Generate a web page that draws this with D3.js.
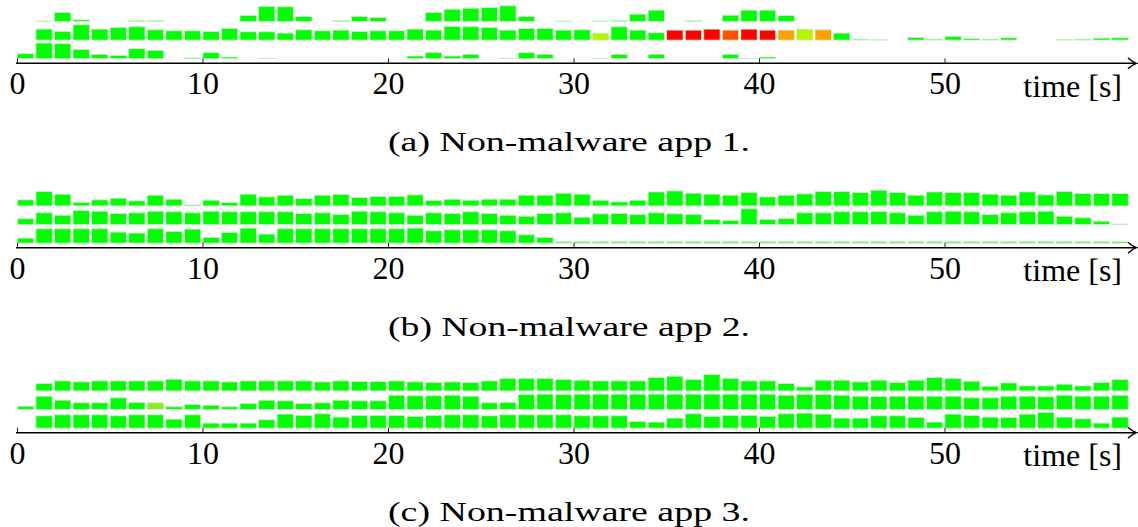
<!DOCTYPE html>
<html>
<head>
<meta charset="utf-8">
<script src="https://cdn.jsdelivr.net/npm/d3@7"></script>
<style>
  html, body { margin: 0; padding: 0; background: #fff; }
  svg { display: block; }
</style>
</head>
<body>
<svg id="chart" width="1138" height="527"></svg>
<script>
// ---------- DATA ----------
const tickValues = [0, 10, 20, 30, 40, 50];
const axisLabel = "time [s]";
const captions = ["(a) Non-malware app 1.", "(b) Non-malware app 2.", "(c) Non-malware app 3."];

// bar heights per second (0..59), three rows per app (top, middle, bottom)
const appA_row1 = [0,0.5,9,1.7,0,0,0.7,0.7,0,0, 0,0,6,15,14.7,5,0,1,5,4, 0,0,9,12.3,13.3,14,15.7,5,0,0.5, 0,0.5,1,7.3,11.3,0,0.7,0,6.3,11.3, 11.3,6,0,0,0,0,0,0,0,0, 0,0,0,0,0,0,0,0,0,0];
const appA_row2 = [0,11,8.7,15.3,11,12.7,13.3,10.3,9.3,9.3, 8.7,11.7,8.3,8.3,7,10.3,9.3,10,8.7,9.3, 9.3,11,10,13.7,13.3,12.7,10,11.7,11.7,10, 10.3,7,13.3,10,7.3,10,10,11,10,11, 10,10,11,10.3,7,1,0.7,0,2.7,1, 3.7,1.5,1,2.3,0,0,0.5,1,2,2.3];
const appA_row3 = [5,15.7,15,9.3,4.3,3.3,10,8.3,0,1, 6,1.7,0,0.5,0,0,0,0,0,0, 0,2.7,6,2.7,4.3,0,0.7,6,4.3,0, 0,0.7,4.3,0,4.3,0,0,0,4.3,0.3, 1.7,0,0,0,0,0,0,0,0,0, 0,0,0,0,0,0,0,0,0,0];

const appB_row1 = [6,14.3,11.7,3.3,6,7.7,5,10.7,6.7,1, 5.7,3.3,11.7,9,10.7,7.3,10.7,11.3,8.3,9.3, 9.3,11,5.3,6.7,5.7,6.7,6.7,10.7,10.7,12.7, 11.7,5.7,4,5.7,14,15,12.7,11.7,10.7,13.3, 9,10.7,12,14.3,14.3,13.3,15.7,13.3,10.7,14, 13.3,13.3,11.7,10.7,14,11,14.3,12.3,12.3,12.3];
const appB_row2 = [5.7,11.7,9.3,14,13.3,11,11.7,13.3,12.7,11.7, 13.3,12.7,12.7,12.7,12.7,11,11.7,10,13.3,12.7, 11.7,9.3,11.7,11,12.7,11,9.3,8.3,11,11.7, 7.3,10.7,11,10,11.7,10.7,10,5,4,15.7, 5,6,11.7,11.7,12.7,12.7,13,11.7,9.3,12.7, 13.3,12.7,10,11.7,12.7,13.3,8.3,6.7,3.3,0.5];
const appB_row3 = [5,14.3,14.3,14.3,14.3,11,10,14.3,11.7,14, 5.7,10.7,15,9,14.3,14.3,14.3,14.3,14.3,14.3, 14.3,15,12.3,13.3,13.3,13.3,12.3,8.3,5.7,1.3, 1.3,1.3,1.3,1.3,1.3,1.3,1.3,1.3,1.3,1.3, 1.3,1.3,1.3,1.3,1.3,1.3,1.3,1.3,1.3,1.3, 1.3,1.3,1.3,1.3,1.3,1.3,1.3,1.3,1.3,1.3];

const appC_row1 = [0,7.3,10,9,10,10,10,10,11.7,10, 10,9,10,10,10,10,9,10,9.3,9.3, 10,9,8.3,9,8.3,10,12.3,12.3,12.3,11.3, 10.7,10,10,10,13.3,14.7,11.3,16.3,12.3,10, 10,7.3,4,10.7,10.7,9,10.7,8.3,10.7,13.3, 12.3,9.7,4.7,8,5,5,6.7,5,8.3,11.3];
const appC_row2 = [3.3,13.3,9.3,6.7,6.7,11.7,7,6.7,2.7,5, 4.3,2.7,6,9.3,8.7,6,6.7,9.3,8.7,8.7, 14.3,13.7,13.7,14.3,13.3,6.7,7,15,15.3,15, 15.3,15.3,15.3,15.3,15.3,15.3,15.3,15.3,15.3,15.3, 15.3,14.3,15,15,14.3,13.3,13,13.3,13.3,13.3, 13.3,11.7,11.7,13.3,13.3,12.7,14.3,13.3,13.3,14.3];
const appC_row3 = [0,12.3,13.3,13.3,13.3,12.3,13.3,13.3,9,13.3, 5,5,5,8.3,14,12.7,14.3,11,12.7,12.7, 12.7,11.7,12.7,13.3,13.3,12.3,13.3,13.3,13.3,13.3, 12.3,12.3,12.3,6.7,6,10,14.3,11.7,12.7,12.7, 11.7,14.3,15,14,10,10,12.3,12.3,10.7,6, 14,12.7,11,10.7,14,15.7,11,9.3,5,11];

// special-coloured seconds (all others are green)
const appA_row2_red = [35, 36, 37, 39, 40];
const appA_row2_orangeRed = [38];
const appA_row2_orange = [41, 43];
const appA_row2_yellowGreen = [31, 42];
const appC_row2_yellowGreen = [7];

// ---------- LAYOUT ----------
const svg = d3.select("#chart");
const W = 1138;
const x = d3.scaleLinear().domain([0, 60]).range([17, 17 + 18.55 * 60]);
const h = d3.scaleLinear().domain([0, 16]).range([0, 16]);
const axisYs = [63.3, 247.7, 432.7];
const rowOffsets = [-41.8, -23.2, -4.6];   // bottom of each row relative to axis
const serif = "'Liberation Serif', 'DejaVu Serif', serif";

const palette = {
  green: "#00ff00",
  red: "#ff0000",
  orangeRed: "#ff5200",
  orange: "#ffa200",
  yellowGreen: "#b8f500",
  yellowGreen2: "#8cee1e"
};

function colourFor(appIdx, rowIdx, i) {
  if (appIdx === 0 && rowIdx === 1) {
    if (appA_row2_red.includes(i)) return palette.red;
    if (appA_row2_orangeRed.includes(i)) return palette.orangeRed;
    if (appA_row2_orange.includes(i)) return palette.orange;
    if (appA_row2_yellowGreen.includes(i)) return palette.yellowGreen;
  }
  if (appIdx === 2 && rowIdx === 1) {
    if (appC_row2_yellowGreen.includes(i)) return palette.yellowGreen2;
  }
  return palette.green;
}

const apps = [
  [appA_row1, appA_row2, appA_row3],
  [appB_row1, appB_row2, appB_row3],
  [appC_row1, appC_row2, appC_row3]
];

apps.forEach((rows, a) => {
  const g = svg.append("g").attr("transform", `translate(0,${axisYs[a]})`);

  rows.forEach((vals, r) => {
    const base = rowOffsets[r];
    g.append("g").selectAll("rect")
      .data(vals.map((v, i) => ({ v, i })).filter(d => d.v > 0))
      .join("rect")
      .attr("x", d => x(d.i) + 0.4)
      .attr("width", d => x(d.i + 1) - x(d.i) - 2.2)
      .attr("y", d => base - h(d.v))
      .attr("height", d => h(d.v))
      .attr("fill", d => colourFor(a, r, d.i))
      .attr("stroke", "#cdeecd")
      .attr("stroke-width", 0.8);
  });

  // axis
  const axis = d3.axisBottom(x).tickValues(tickValues).tickSize(-5).tickSizeOuter(0).tickFormat(d3.format("d"));
  const ag = g.append("g").call(axis);
  ag.select(".domain").remove();
  ag.selectAll(".tick line").attr("stroke", "#222").attr("stroke-width", 1);
  ag.selectAll(".tick text")
    .attr("y", 31).attr("dy", null)
    .attr("fill", "#000")
    .style("font-family", serif).style("font-size", "32px");

  g.append("line")
    .attr("x1", 16).attr("x2", 1135).attr("y1", 0).attr("y2", 0)
    .attr("stroke", "#000").attr("stroke-width", 1.6);
  g.append("path")
    .attr("d", "M1128,-5.5 Q1132,-1.5 1136.5,0 Q1132,1.5 1128,5.5")
    .attr("fill", "none").attr("stroke", "#000").attr("stroke-width", 1.4);

  g.append("text")
    .attr("x", 1122).attr("y", 33.5)
    .attr("text-anchor", "end")
    .style("font-family", serif).style("font-size", "32px")
    .text(axisLabel);

  g.append("text")
    .attr("x", W / 2).attr("y", 88)
    .attr("text-anchor", "middle")
    .style("font-family", serif).style("font-size", "27px")
    .attr("textLength", 362)
    .attr("lengthAdjust", "spacingAndGlyphs")
    .text(captions[a]);
});
</script>
</body>
</html>
